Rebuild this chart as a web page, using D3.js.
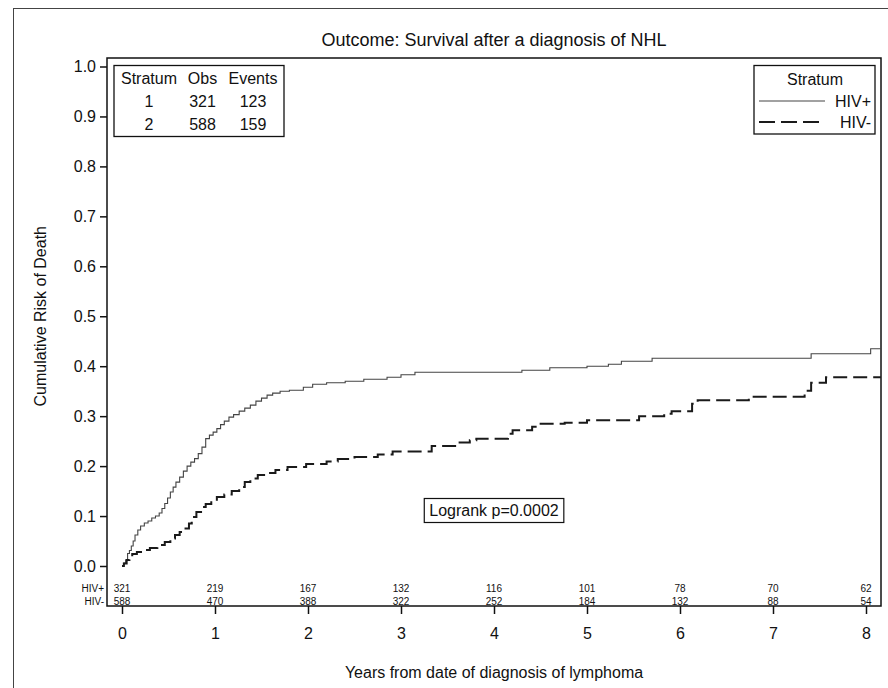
<!DOCTYPE html>
<html lang="en">
<head>
    <meta charset="UTF-8">
    <title>Survival after NHL</title>
    <script src="https://d3js.org/d3.v7.min.js"></script>
    <style>
        body {
            margin: 0;
            background: #fff;
        }
        svg text {
            font-family: "Liberation Sans", Arial, sans-serif;
            fill: #111;
        }
    </style>
</head>
<body>
<svg id="chart"></svg>
<script>
    // Cumulative risk curves (step points: [years, risk])
    const hivPos = [
        [0, 0], [0.02, 0.006], [0.04, 0.012], [0.06, 0.025], [0.08, 0.031], [0.10, 0.040],
        [0.12, 0.050], [0.14, 0.062], [0.17, 0.072], [0.20, 0.080], [0.24, 0.086], [0.28, 0.090],
        [0.32, 0.096], [0.36, 0.100], [0.40, 0.106], [0.43, 0.115], [0.46, 0.125], [0.49, 0.136],
        [0.52, 0.148], [0.55, 0.158], [0.58, 0.168], [0.62, 0.178], [0.66, 0.190], [0.70, 0.200],
        [0.74, 0.208], [0.78, 0.215], [0.82, 0.225], [0.86, 0.238], [0.90, 0.255], [0.94, 0.262],
        [0.98, 0.268], [1.02, 0.275], [1.06, 0.283], [1.10, 0.290], [1.15, 0.298], [1.20, 0.303],
        [1.26, 0.310], [1.32, 0.316], [1.38, 0.322], [1.44, 0.330], [1.50, 0.336], [1.56, 0.342],
        [1.62, 0.346], [1.70, 0.350], [1.80, 0.352], [1.95, 0.358], [2.05, 0.364], [2.20, 0.367],
        [2.40, 0.370], [2.60, 0.374], [2.85, 0.378], [3.00, 0.383], [3.15, 0.388], [4.30, 0.392],
        [4.60, 0.397], [5.00, 0.400], [5.23, 0.404], [5.37, 0.410], [5.70, 0.416], [7.41, 0.425],
        [8.05, 0.435], [8.16, 0.435]
    ];
    const hivNeg = [
        [0, 0], [0.02, 0.005], [0.05, 0.012], [0.08, 0.018], [0.11, 0.024], [0.16, 0.028],
        [0.22, 0.032], [0.30, 0.036], [0.38, 0.042], [0.46, 0.048], [0.52, 0.055], [0.57, 0.062],
        [0.62, 0.068], [0.67, 0.075], [0.72, 0.085], [0.75, 0.098], [0.80, 0.108], [0.85, 0.118],
        [0.90, 0.124], [0.96, 0.130], [1.02, 0.138], [1.10, 0.143], [1.18, 0.150], [1.26, 0.158],
        [1.32, 0.168], [1.38, 0.175], [1.46, 0.182], [1.55, 0.186], [1.65, 0.192], [1.78, 0.198],
        [1.98, 0.204], [2.20, 0.209], [2.32, 0.214], [2.50, 0.218], [2.75, 0.223], [2.91, 0.229],
        [3.33, 0.240], [3.61, 0.247], [3.74, 0.252], [3.81, 0.255], [4.15, 0.265], [4.20, 0.272],
        [4.41, 0.279], [4.49, 0.285], [4.76, 0.287], [5.00, 0.292], [5.56, 0.300], [5.83, 0.305],
        [5.91, 0.310], [6.13, 0.325], [6.19, 0.332], [6.74, 0.339], [7.34, 0.351], [7.41, 0.367],
        [7.57, 0.378], [8.16, 0.378]
    ];

    // Number at risk
    const riskYears = [0, 1, 2, 3, 4, 5, 6, 7, 8];
    const riskPos = [321, 219, 167, 132, 116, 101, 78, 70, 62];
    const riskNeg = [588, 470, 388, 322, 252, 184, 132, 88, 54];

    // Summary table
    const statHeader = ["Stratum", "Obs", "Events"];
    const statRows = [["1", "321", "123"], ["2", "588", "159"]];

    const yTicks = [0, 0.1, 0.2, 0.3, 0.4, 0.5, 0.6, 0.7, 0.8, 0.9, 1.0];
    const xTicks = [0, 1, 2, 3, 4, 5, 6, 7, 8];

    const width = 888, height = 688;
    const frame = {left: 107, top: 58, right: 881, bottom: 606};

    const svg = d3.select("#chart")
        .attr("width", width)
        .attr("height", height);

    // outer border
    svg.append("rect")
        .attr("x", 13.5).attr("y", 8.5)
        .attr("width", 900).attr("height", 700)
        .attr("fill", "none").attr("stroke", "#444").attr("stroke-width", 1);

    const x = d3.scaleLinear().domain([0, 8]).range([122, 866]);
    const y = d3.scaleLinear().domain([0, 1]).range([566, 66.5]);

    // plot frame
    svg.append("rect")
        .attr("x", frame.left).attr("y", frame.top)
        .attr("width", frame.right - frame.left)
        .attr("height", frame.bottom - frame.top)
        .attr("fill", "none").attr("stroke", "#111").attr("stroke-width", 1.5);

    // title
    svg.append("text")
        .attr("x", (frame.left + frame.right) / 2).attr("y", 46)
        .attr("text-anchor", "middle")
        .style("font-size", "18px")
        .text("Outcome: Survival after a diagnosis of NHL");

    // y axis
    const yAxis = svg.append("g")
        .attr("transform", `translate(${frame.left},0)`)
        .call(d3.axisLeft(y).tickValues(yTicks).tickFormat(d3.format(".1f")).tickSize(7).tickPadding(4));
    yAxis.select(".domain").remove();
    yAxis.selectAll("line").attr("stroke", "#111").attr("stroke-width", 1.5);
    yAxis.selectAll("text").style("font-size", "16px").attr("fill", "#111");

    // x axis
    const xAxis = svg.append("g")
        .attr("transform", `translate(0,${frame.bottom})`)
        .call(d3.axisBottom(x).tickValues(xTicks).tickSize(8).tickPadding(14));
    xAxis.select(".domain").remove();
    xAxis.selectAll("line").attr("stroke", "#111").attr("stroke-width", 1.5);
    xAxis.selectAll("text").style("font-size", "16px").attr("fill", "#111");

    // axis labels
    svg.append("text")
        .attr("transform", `translate(46,${y(0.5)}) rotate(-90)`)
        .attr("text-anchor", "middle")
        .style("font-size", "16px")
        .text("Cumulative Risk of Death");

    svg.append("text")
        .attr("x", (frame.left + frame.right) / 2).attr("y", 678)
        .attr("text-anchor", "middle")
        .style("font-size", "16px")
        .text("Years from date of diagnosis of lymphoma");

    // curves
    const line = d3.line()
        .x(d => x(d[0]))
        .y(d => y(d[1]))
        .curve(d3.curveStepAfter);

    svg.append("path")
        .datum(hivPos)
        .attr("d", line)
        .attr("fill", "none")
        .attr("stroke", "#444")
        .attr("stroke-width", 1.1);

    svg.append("path")
        .datum(hivNeg)
        .attr("d", line)
        .attr("fill", "none")
        .attr("stroke", "#1a1a1a")
        .attr("stroke-width", 2)
        .attr("stroke-dasharray", "14,6");

    // number at risk rows
    const riskRows = [
        {label: "HIV+", values: riskPos, yPos: 592},
        {label: "HIV-", values: riskNeg, yPos: 605}
    ];
    riskRows.forEach(row => {
        svg.append("text")
            .attr("x", 104).attr("y", row.yPos)
            .attr("text-anchor", "end")
            .style("font-size", "10px")
            .text(row.label);
        svg.selectAll(null)
            .data(riskYears)
            .enter().append("text")
            .attr("x", d => x(d))
            .attr("y", row.yPos)
            .attr("text-anchor", "middle")
            .style("font-size", "10px")
            .text((d, i) => row.values[i]);
    });

    // summary table (top left)
    svg.append("rect")
        .attr("x", 114).attr("y", 65.5)
        .attr("width", 170).attr("height", 71)
        .attr("fill", "#fff").attr("stroke", "#111").attr("stroke-width", 1.3);
    const colX = [149, 202.5, 253];
    statHeader.forEach((h, i) => {
        svg.append("text")
            .attr("x", colX[i]).attr("y", 84)
            .attr("text-anchor", "middle")
            .style("font-size", "16px")
            .text(h);
    });
    statRows.forEach((r, j) => {
        r.forEach((v, i) => {
            svg.append("text")
                .attr("x", colX[i]).attr("y", 107 + j * 23)
                .attr("text-anchor", "middle")
                .style("font-size", "16px")
                .text(v);
        });
    });

    // legend (top right)
    svg.append("rect")
        .attr("x", 754).attr("y", 65.5)
        .attr("width", 121).attr("height", 68.5)
        .attr("fill", "#fff").attr("stroke", "#111").attr("stroke-width", 1.3);
    svg.append("text")
        .attr("x", 815).attr("y", 85)
        .attr("text-anchor", "middle")
        .style("font-size", "16px")
        .text("Stratum");
    const legendItems = [
        {label: "HIV+", dash: null, w: 1.1, color: "#444", yPos: 101, end: 825},
        {label: "HIV-", dash: "16,6", w: 2, color: "#1a1a1a", yPos: 122, end: 819}
    ];
    legendItems.forEach(item => {
        svg.append("line")
            .attr("x1", 759).attr("x2", item.end)
            .attr("y1", item.yPos).attr("y2", item.yPos)
            .attr("stroke", item.color)
            .attr("stroke-width", item.w)
            .attr("stroke-dasharray", item.dash);
        svg.append("text")
            .attr("x", 871).attr("y", item.yPos + 6)
            .attr("text-anchor", "end")
            .style("font-size", "16px")
            .text(item.label);
    });

    // logrank box
    const lr = svg.append("g");
    const lrText = lr.append("text")
        .attr("x", (frame.left + frame.right) / 2).attr("y", 516)
        .attr("text-anchor", "middle")
        .style("font-size", "16px")
        .text("Logrank p=0.0002");
    const bb = lrText.node().getBBox();
    lr.insert("rect", "text")
        .attr("x", bb.x - 5).attr("y", 498.5)
        .attr("width", bb.width + 10).attr("height", 24)
        .attr("fill", "#fff").attr("stroke", "#111").attr("stroke-width", 1.2);
</script>
</body>
</html>
